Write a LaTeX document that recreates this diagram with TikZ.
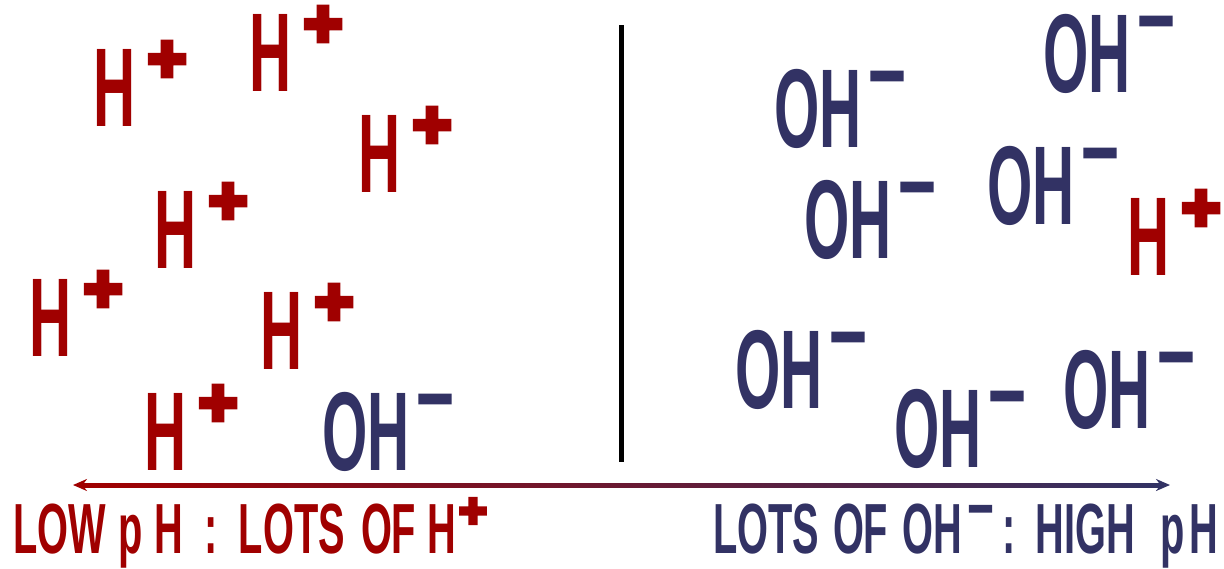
\documentclass[tikz,border=0pt]{standalone}
\usepackage{fontspec}
\usetikzlibrary{arrows.meta,calc}
\newfontfamily\ionfont{Liberation Sans}[FakeStretch=0.52]
\newfontfamily\labfont{Liberation Sans}[FakeStretch=0.56]
\newfontfamily\signfont{Liberation Sans}[FakeBold=8]
\definecolor{ired}{RGB}{160,0,0}
\definecolor{iblue}{RGB}{50,50,100}
\tikzset{
  ion/.style={inner sep=0pt, outer sep=0pt, anchor=base west,
    text height=81pt, text depth=0pt,
    font=\ionfont\bfseries\fontsize{112}{112}\selectfont},
  hion/.style={ion, text=ired},
  ohion/.style={ion, text=iblue},
  sign/.style={inner sep=0pt, outer sep=0pt, anchor=base,
    text height=40pt, text depth=0pt,
    font=\signfont\bfseries\fontsize{66}{66}\selectfont},
  msign/.style={sign, font=\signfont\bfseries\fontsize{57}{57}\selectfont},
  lab/.style={inner sep=0pt, outer sep=0pt, anchor=base west,
    text height=54pt, text depth=15pt,
    font=\labfont\bfseries\fontsize{71}{71}\selectfont},
  divider/.style={line width=4.5pt, black},
}
\newcommand\Hion[3]{%
  \node[hion] (#1) at (#2-4,#3) {H};
  \node[sign, text=ired] (#1s) at ([xshift=74pt,yshift=45pt]#1.base west) {+};}
\newcommand\OHion[3]{%
  \node[ohion] (#1) at (#2-4,#3) {OH};
  \node[msign, text=iblue] (#1s) at ([xshift=113pt,yshift=52pt]#1.base west) {−};}
\begin{document}
\begin{tikzpicture}[x=1pt,y=-1pt]
\useasboundingbox[fill=white] (0,0) rectangle (1224,568);
% divider
\coordinate (d1) at (621.5,25);
\coordinate (d2) at (621.5,462);
\draw[divider] (d1) -- (d2);
% left side
\Hion{h1}{97}{126}
\Hion{h2}{253}{91}
\Hion{h3}{362}{192}
\Hion{h4}{158}{268}
\Hion{h5}{33}{356}
\Hion{h6}{264}{369}
\Hion{h7}{148}{470}
\OHion{o1}{326}{470}
% right side
\OHion{o2}{778}{147}
\OHion{o3}{1047}{92}
\OHion{o4}{808}{258}
\OHion{o5}{991}{224}
\Hion{h8}{1131}{275}
\OHion{o6}{739}{408}
\OHion{o7}{898}{467}
\OHion{o8}{1067}{428}
% pH scale arrow
\coordinate (aL) at (73,485);
\coordinate (aR) at (1170,485);
\shade[left color=ired, right color=iblue] ($(aL)+(10,-2)$) rectangle ($(aR)+(-10,2)$);
\draw[ired, line width=4pt, -{Stealth[length=14pt,width=12pt]}] ($(aL)+(16,0)$) -- (aL);
\draw[iblue, line width=4pt, -{Stealth[length=14pt,width=12pt]}] ($(aR)+(-16,0)$) -- (aR);
% labels
\node[lab, text=ired] (lowlab) at (13,553)
  {LOW\hspace{13pt}p\hspace{11pt}H\hspace{22pt}:\hspace{21pt}LOTS\hspace{16pt}OF\hspace{11pt}H\hspace{3pt}\raisebox{26pt}{\signfont\bfseries\fontsize{48}{48}\selectfont +}};
\node[lab, text=iblue] (highlab) at (713,553)
  {LOTS\hspace{14pt}OF\hspace{14pt}OH\hspace{7pt}\raisebox{31pt}{\signfont\bfseries\fontsize{40}{40}\selectfont −}\hspace{10pt}:\hspace{20pt}HIGH\hspace{26pt}p\hspace{4pt}H};
\end{tikzpicture}
\end{document}
